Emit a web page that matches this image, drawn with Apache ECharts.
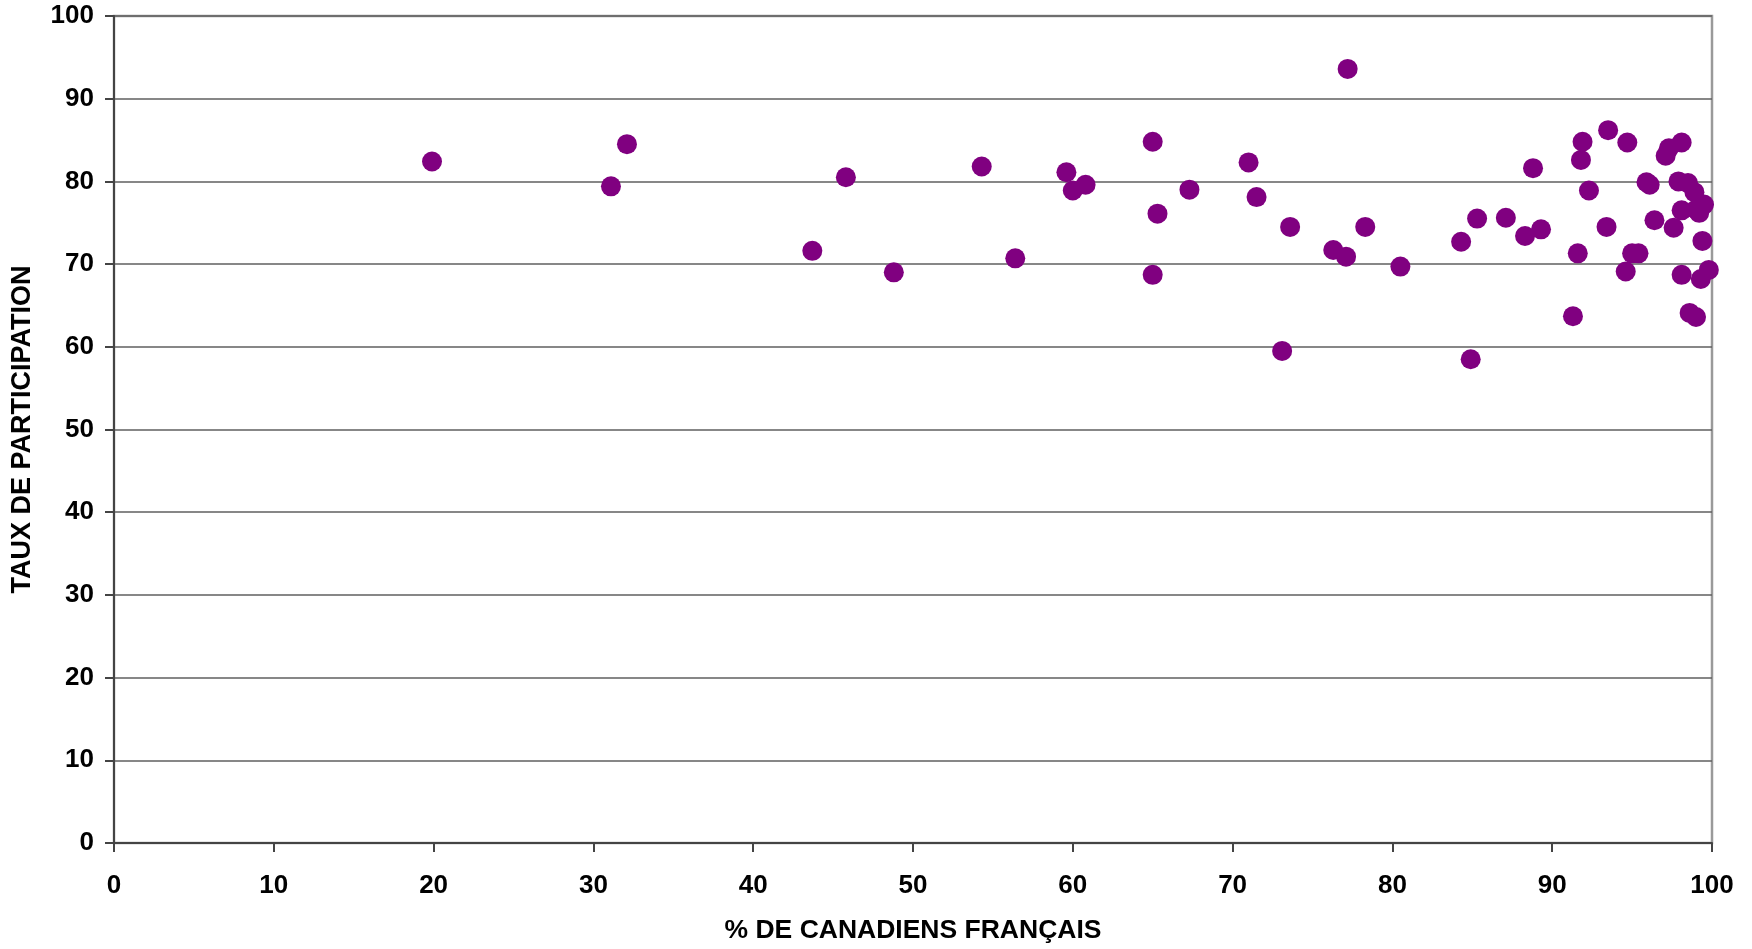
<!DOCTYPE html>
<html>
<head>
<meta charset="utf-8">
<script src="https://cdn.jsdelivr.net/npm/echarts@6/dist/echarts.min.js"></script>
<style>
html,body{margin:0;padding:0;background:#fff;}
#c{width:1752px;height:949px;}
</style>
</head>
<body>
<div id="c"></div>
<script>
const xTitle = '% DE CANADIENS FRANÇAIS';
const yTitle = 'TAUX DE PARTICIPATION';
const xTicks = [0,10,20,30,40,50,60,70,80,90,100];
const yTicks = [0,10,20,30,40,50,60,70,80,90,100];
const pctFrench = [19.9,31.1,32.1,43.7,45.8,48.8,54.3,56.4,59.6,60.0,60.8,65.0,65.0,65.3,67.3,71.0,71.5,73.1,73.6,76.3,77.1,77.2,78.3,80.5,84.3,84.9,85.3,87.1,88.3,88.8,89.3,91.3,91.6,91.8,91.9,92.3,93.4,93.5,94.6,94.7,95.0,95.4,95.9,96.1,96.4,97.1,97.3,97.6,97.9,98.1,98.1,98.1,98.5,98.6,98.9,99.0,99.0,99.2,99.3,99.4,99.5,99.8];
const turnout = [82.4,79.4,84.5,71.6,80.5,69.0,81.8,70.7,81.1,78.9,79.6,84.8,68.7,76.1,79.0,82.3,78.1,59.5,74.5,71.7,70.9,93.6,74.5,69.7,72.7,58.5,75.5,75.6,73.4,81.6,74.2,63.7,71.3,82.6,84.8,78.9,74.5,86.2,69.1,84.7,71.3,71.3,79.9,79.6,75.3,83.1,84.0,74.4,80.0,84.7,68.7,76.5,79.8,64.1,78.7,76.6,63.6,76.2,68.2,72.8,77.2,69.3];

const points = pctFrench.map((x, i) => [x, turnout[i]]);
const font = '"Liberation Sans", Arial, sans-serif';

const chart = echarts.init(document.getElementById('c'), null, {renderer: 'canvas'});
chart.setOption({
  animation: false,
  backgroundColor: '#ffffff',
  grid: {
    left: 114, right: 40, top: 16, bottom: 72,
    show: true, borderColor: '#9a9a9a', borderWidth: 2.5, backgroundColor: 'transparent'
  },
  xAxis: {
    type: 'value',
    min: xTicks[0], max: xTicks[xTicks.length - 1], interval: 10,
    name: xTitle, nameLocation: 'middle', nameGap: 74,
    nameTextStyle: {fontFamily: font, fontWeight: 'bold', fontSize: 26.5, color: '#000'},
    axisLine: {show: true, onZero: false, lineStyle: {color: '#444', width: 2}},
    axisTick: {show: true, inside: false, length: 9, lineStyle: {color: '#444', width: 2}},
    axisLabel: {fontFamily: font, fontWeight: 'bold', fontSize: 26, color: '#000', margin: 30},
    splitLine: {show: false}
  },
  yAxis: {
    type: 'value',
    min: yTicks[0], max: yTicks[yTicks.length - 1], interval: 10,
    name: yTitle, nameLocation: 'middle', nameGap: 78,
    nameTextStyle: {fontFamily: font, fontWeight: 'bold', fontSize: 27, color: '#000'},
    axisLine: {show: true, onZero: false, lineStyle: {color: '#444', width: 2}},
    axisTick: {show: true, inside: false, length: 9, lineStyle: {color: '#444', width: 2}},
    axisLabel: {fontFamily: font, fontWeight: 'bold', fontSize: 26, color: '#000', margin: 20},
    splitLine: {show: true, lineStyle: {color: '#5f5f5f', width: 1.6}}
  },
  series: [{
    type: 'scatter',
    data: points,
    symbol: 'circle',
    symbolSize: 20,
    itemStyle: {color: '#800080', opacity: 1}
  }]
});
</script>
</body>
</html>
